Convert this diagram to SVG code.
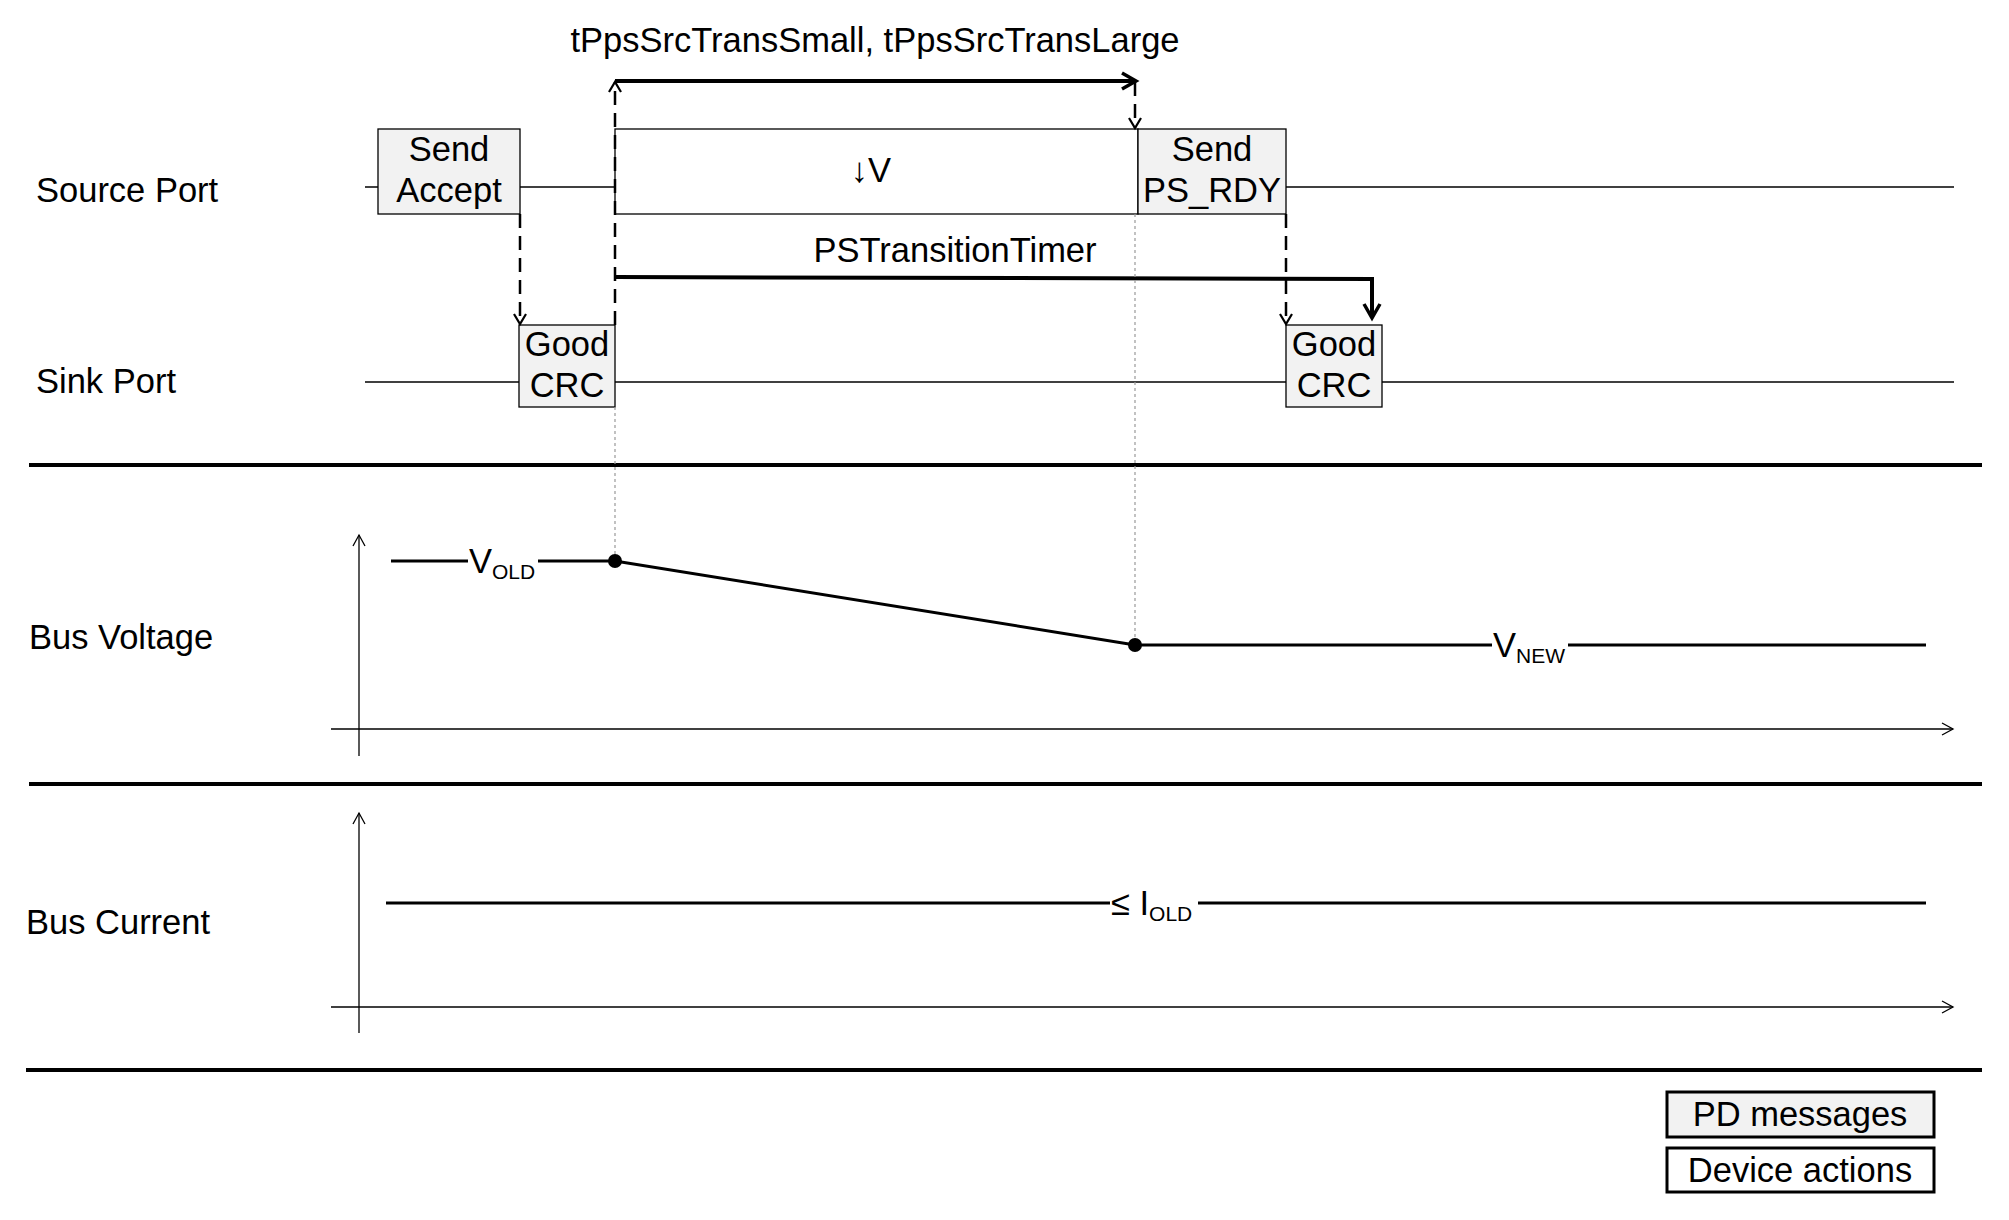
<svg xmlns="http://www.w3.org/2000/svg" width="2009" height="1220" viewBox="0 0 2009 1220">
<style>
text{font-family:"Liberation Sans",Arial,sans-serif;font-size:34.5px;fill:#000}
.c{text-anchor:middle}
.box{fill:#f2f2f2;stroke:#000;stroke-width:1.3}
.thin{stroke:#000;stroke-width:1.3;fill:none}
.sep{stroke:#000;stroke-width:4;fill:none}
.dash{stroke:#000;stroke-width:2.5;stroke-dasharray:14,8;fill:none}
.dot{stroke:#999;stroke-width:1.2;stroke-dasharray:3,3;fill:none}
.thick{stroke:#000;stroke-width:4;fill:none}
.sub{font-size:21px}
</style>
<defs>
<marker id="oa" markerWidth="14" markerHeight="14" refX="11" refY="7" orient="auto" markerUnits="userSpaceOnUse"><path d="M1,1 L11,7 L1,13" fill="none" stroke="#000" stroke-width="2.2"/></marker>
<marker id="ob" markerWidth="20" markerHeight="20" refX="16" refY="10" orient="auto" markerUnits="userSpaceOnUse"><path d="M2,2 L16,10 L2,18" fill="none" stroke="#000" stroke-width="3.5"/></marker>
<marker id="ax" markerWidth="14" markerHeight="14" refX="12" refY="7" orient="auto" markerUnits="userSpaceOnUse"><path d="M1,1 L12,7 L1,13" fill="none" stroke="#000" stroke-width="1.3"/></marker>
</defs>
<g id="lanes">
<text x="36" y="202">Source Port</text>
<text x="36" y="393">Sink Port</text>
<text x="29" y="649">Bus Voltage</text>
<text x="26" y="934">Bus Current</text>
<line class="thin" x1="365" y1="187" x2="1954" y2="187"/>
<line class="thin" x1="365" y1="382" x2="1954" y2="382"/>
<line class="sep" x1="29" y1="465" x2="1982" y2="465"/>
<line class="sep" x1="29" y1="784" x2="1982" y2="784"/>
<line class="sep" x1="26" y1="1070" x2="1982" y2="1070"/>
</g>
<g id="send-accept"><rect class="box" x="378" y="129" width="142" height="85"/><text class="c" x="449" y="161">Send</text><text class="c" x="449" y="202">Accept</text></g>
<g id="dv"><rect x="615" y="129" width="523" height="85" fill="#fff" stroke="#000" stroke-width="1.3"/><text class="c" x="871" y="182">↓V</text></g>
<g id="send-psrdy"><rect class="box" x="1138" y="129" width="148" height="85"/><text class="c" x="1212" y="161">Send</text><text class="c" x="1212" y="202">PS_RDY</text></g>
<g id="goodcrc1"><rect class="box" x="519" y="325" width="96" height="82"/><text class="c" x="567" y="356">Good</text><text class="c" x="567" y="397">CRC</text></g>
<g id="goodcrc2"><rect class="box" x="1286" y="325" width="96" height="82"/><text class="c" x="1334" y="356">Good</text><text class="c" x="1334" y="397">CRC</text></g>
<g id="connectors">
<line class="dash" x1="520" y1="214" x2="520" y2="324" marker-end="url(#oa)"/>
<line class="dash" x1="1286" y1="214" x2="1286" y2="324" marker-end="url(#oa)"/>
<line class="dash" x1="615" y1="325" x2="615" y2="82" marker-end="url(#oa)"/>
<line class="dash" x1="1135" y1="82" x2="1135" y2="128" marker-end="url(#oa)"/>
<line class="thick" x1="615" y1="81" x2="1136" y2="81" marker-end="url(#ob)"/>
<text class="c" x="875" y="52">tPpsSrcTransSmall, tPpsSrcTransLarge</text>
<polyline class="thick" points="615,277 1372,279 1372,318" marker-end="url(#ob)"/>
<text class="c" x="955" y="262">PSTransitionTimer</text>
<line class="dot" x1="615" y1="407" x2="615" y2="561"/>
<line class="dot" x1="1135" y1="214" x2="1135" y2="645"/>
</g>
<g id="bus-voltage">
<line class="thin" x1="359" y1="756" x2="359" y2="535" marker-end="url(#ax)"/>
<line class="thin" x1="331" y1="729" x2="1953" y2="729" marker-end="url(#ax)"/>
<polyline points="391,561 615,561 1135,645 1926,645" fill="none" stroke="#000" stroke-width="3"/>
<rect x="468" y="545" width="70" height="32" fill="#fff"/>
<text x="469" y="573">V<tspan class="sub" dy="6">OLD</tspan></text>
<rect x="1492" y="629" width="76" height="32" fill="#fff"/>
<text x="1493" y="657">V<tspan class="sub" dy="6">NEW</tspan></text>
<circle cx="615" cy="561" r="7"/><circle cx="1135" cy="645" r="7"/>
</g>
<g id="bus-current">
<line class="thin" x1="359" y1="1033" x2="359" y2="813" marker-end="url(#ax)"/>
<line class="thin" x1="331" y1="1007" x2="1953" y2="1007" marker-end="url(#ax)"/>
<line x1="386" y1="903" x2="1926" y2="903" stroke="#000" stroke-width="3"/>
<rect x="1110" y="887" width="88" height="32" fill="#fff"/>
<text x="1111" y="915">≤ I<tspan class="sub" dy="6">OLD</tspan></text>
</g>
<g id="legend">
<rect x="1667" y="1092" width="267" height="45" fill="#f2f2f2" stroke="#000" stroke-width="3"/>
<text class="c" x="1800" y="1126">PD messages</text>
<rect x="1667" y="1148" width="267" height="44" fill="#fff" stroke="#000" stroke-width="3"/>
<text class="c" x="1800" y="1182">Device actions</text>
</g>
</svg>
